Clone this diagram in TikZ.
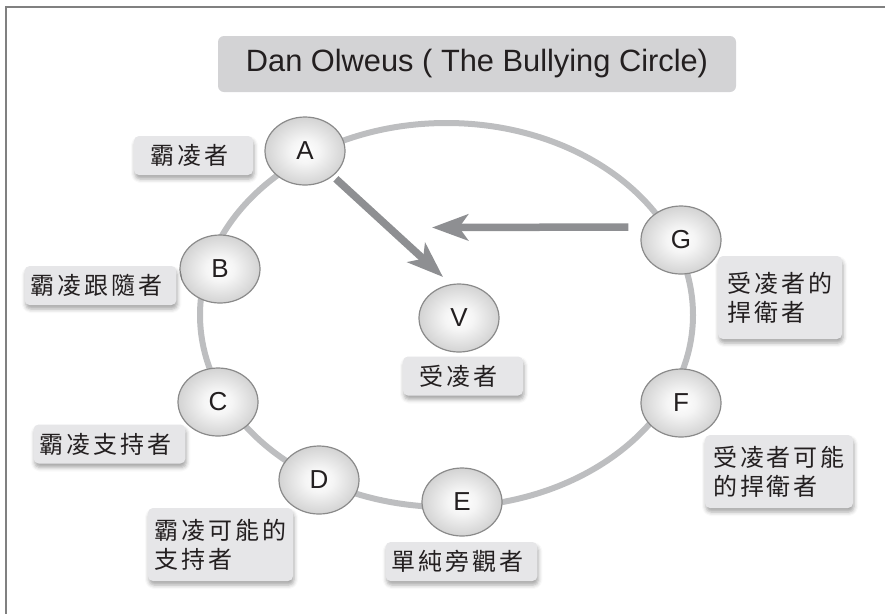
\documentclass[tikz,border=0pt]{standalone}
\usepackage{fontspec}
\setmainfont{Liberation Sans}
\newfontfamily\cjkfont[LetterSpace=12]{Noto Sans CJK TC}
\usetikzlibrary{shapes.geometric, arrows.meta, shadows.blur}

\definecolor{framegray}{HTML}{808080}
\definecolor{ringgray}{HTML}{BDBEC0}
\definecolor{arrowgray}{HTML}{8E8F92}
\definecolor{boxgray}{HTML}{E6E6E8}
\definecolor{titlegray}{HTML}{D3D3D5}
\definecolor{ballrim}{HTML}{8A8A8A}
\definecolor{ink}{HTML}{231F20}

\pgfdeclareradialshading{ballshade}{\pgfpoint{0bp}{0bp}}{%
	color(0bp)=(white); color(9bp)=(white!96!black);
	color(44bp)=(black!33); color(50bp)=(black!36)}

\begin{document}
\begin{tikzpicture}[x=1pt, y=-1pt,
	ring member/.style={ellipse, draw=ballrim, line width=1.2pt,
		minimum width=80pt, minimum height=68pt, inner sep=0pt,
		shading=ballshade, text=ink, font=\fontsize{26}{26}\selectfont},
	role box/.style={rounded corners=5pt, fill=boxgray, text=ink, align=left,
		inner xsep=6pt, minimum height=39pt,
		font=\cjkfont\fontsize{24}{29}\selectfont,
		blur shadow={shadow xshift=1pt, shadow yshift=-4pt,
			shadow blur radius=4pt, shadow opacity=35}},
	role arrow/.style={draw=arrowgray, line width=7.5pt,
		-{Stealth[length=36pt, width=26pt, inset=9pt]}}]

		\useasboundingbox (0,0) rectangle (885,614);

		% Frame
		\draw [framegray, line width=2pt] (885,7) -- (6,7) -- (6,614);

		% Title
		\node [rounded corners=6pt, fill=titlegray, minimum width=518pt,
			minimum height=56pt, text=ink, font=\fontsize{30.8}{30.8}\selectfont]
			(title) at (477,64) {Dan Olweus ( The Bullying Circle)};

		% Circle
		\draw [ringgray, line width=6pt] (446.5,315) ellipse [x radius=246.5, y radius=192];

		\foreach \name/\px/\py in {A/305/151, B/220/269, C/218/402, D/319/480,
			E/462/502, F/681/403, G/681/240, V/459/318}
			\node [ring member] (\name) at (\px,\py) {\name};

		% Roles
		\node [role box, minimum width=119pt] (bully) at (193.5,155.5) {
			霸凌者
		};
		\node [role box, minimum width=143pt] (follower) at (100.5,285.5) {
			霸凌跟隨者
		};
		\node [role box, minimum width=143pt] (supporter) at (109.5,444) {
			霸凌支持者
		};
		\node [role box, minimum width=145pt, minimum height=73pt] (passive) at (220.5,544.5) {
			霸凌可能的\\支持者
		};
		\node [role box, minimum width=143pt] (onlooker) at (461.5,561.5) {
			單純旁觀者
		};
		\node [role box, minimum width=148pt, minimum height=73pt] (possible) at (779,471.5) {
			受凌者可能\\的捍衛者
		};
		\node [role box, minimum width=124pt, minimum height=83pt] (defender) at (780,297.5) {
			受凌者的\\捍衛者
		};
		\node [role box, minimum width=120pt] (victim) at (463,376) {
			受凌者
		};

		% Arrows
		\coordinate (hit) at (443,277);
		\coordinate (stop) at (432,227.5);
		\draw [role arrow, shorten <=4pt] (A.-42) -- (hit);
		\draw [role arrow, shorten <=12pt] ([yshift=13pt]G.west) -- (stop);

	\end{tikzpicture}
\end{document}
